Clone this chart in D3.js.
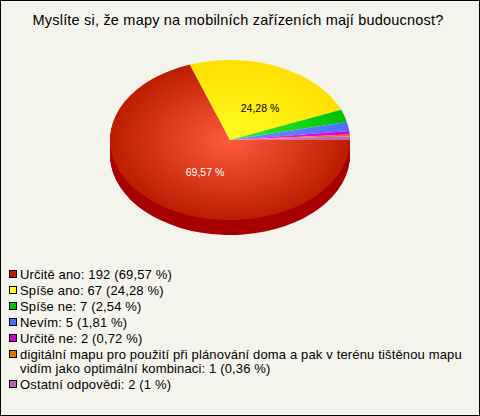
<!DOCTYPE html>
<html><head><meta charset="utf-8">
<script src="https://cdn.jsdelivr.net/npm/d3@7/dist/d3.min.js"></script>
<style>html,body{margin:0;padding:0;background:#f5f4ec}svg{display:block}text{font-family:"Liberation Sans",Arial,sans-serif}</style>
</head><body><svg id="c" width="480" height="416"></svg>
<script>
(function(){
const title = "Myslíte si, že mapy na mobilních zařízeních mají budoucnost?";
const categories = ["Určitě ano","Spíše ano","Spíše ne","Nevím","Určitě ne","digitální mapu pro použití při plánování doma a pak v terénu tištěnou mapu vidím jako optimální kombinaci","Ostatní odpovědi"];
const counts = [192,67,7,5,2,1,2];
const percentLabels = ["69,57 %","24,28 %","2,54 %","1,81 %","0,72 %","0,36 %","1 %"];
const swatchColors = ["#c02000","#ffff20","#00c000","#4070ff","#d000d0","#e87000","#c060b0"];
const innerColors = ["#ff5c3c","#ffff20","#38ee38","#6090ff","#ff20ff","#ff9020","#d878c8"];
const outerColors = ["#bc1c00","#ffe000","#00c000","#4f70ff","#d800d8","#e07000","#c068b0"];
const sideColor = "#a80000";
const W=480,H=416,cx=230,cy=140,rx=120,ry=80,depth=15;
const svg=d3.select("#c");
svg.append("rect").attr("x",.5).attr("y",.5).attr("width",W-1).attr("height",H-1).attr("fill","#f5f4ec").attr("stroke","#000");
svg.append("text").attr("x",238).attr("y",25).attr("text-anchor","middle").attr("font-size",14.5).attr("letter-spacing",0.2).attr("fill","#000").text(title);
const defs=svg.append("defs");
counts.forEach((_,i)=>{
  const g=defs.append("radialGradient").attr("id","g"+i).attr("gradientUnits","userSpaceOnUse").attr("cx",0).attr("cy",0).attr("r",rx);
  g.append("stop").attr("offset",0).attr("stop-color",innerColors[i]);
  g.append("stop").attr("offset",1).attr("stop-color",outerColors[i]);
});
const pie=d3.pie().sort(null).startAngle(Math.PI/2).endAngle(Math.PI/2+2*Math.PI).value(d=>d);
const arcs=pie(counts);
const arc=d3.arc().innerRadius(0).outerRadius(rx);
d3.range(depth,0,-1).forEach(off=>{
  svg.append("path").attr("transform",`translate(${cx},${cy+off}) scale(1,${ry/rx})`)
    .attr("d",arc(arcs[0])).attr("fill",sideColor);
});
const face=svg.append("g").attr("transform",`translate(${cx},${cy}) scale(1,${ry/rx})`);
face.selectAll("path").data(arcs).join("path").attr("d",arc).attr("fill",(d,i)=>`url(#g${i})`);
const labelOffsets=[[-25,36],[30,-28]];
labelOffsets.forEach((o,i)=>{
  svg.append("text").attr("x",cx+o[0]).attr("y",cy+o[1]).attr("text-anchor","middle").attr("font-size",10.5)
    .attr("fill",i===0?"#fff":"#000").text(percentLabels[i]);
});
const lineH=16, ls=0.15;
let y=273;
const legendText=(yy,s)=>svg.append("text").attr("x",20).attr("y",yy).attr("font-size",13).attr("letter-spacing",ls).attr("fill","#000").text(s);
categories.forEach((c,i)=>{
  svg.append("rect").attr("x",9.5).attr("y",y-2.5).attr("width",7).attr("height",7).attr("fill",swatchColors[i]).attr("stroke","#000");
  if(i===5){
    legendText(y+6,"digitální mapu pro použití při plánování doma a pak v terénu tištěnou mapu");
    legendText(y+20,"vidím jako optimální kombinaci: "+counts[i]+" ("+percentLabels[i]+")");
    y+=lineH+14;
  } else { legendText(y+6,`${c}: ${counts[i]} (${percentLabels[i]})`); y+=lineH; }
});
})();
</script></body></html>
